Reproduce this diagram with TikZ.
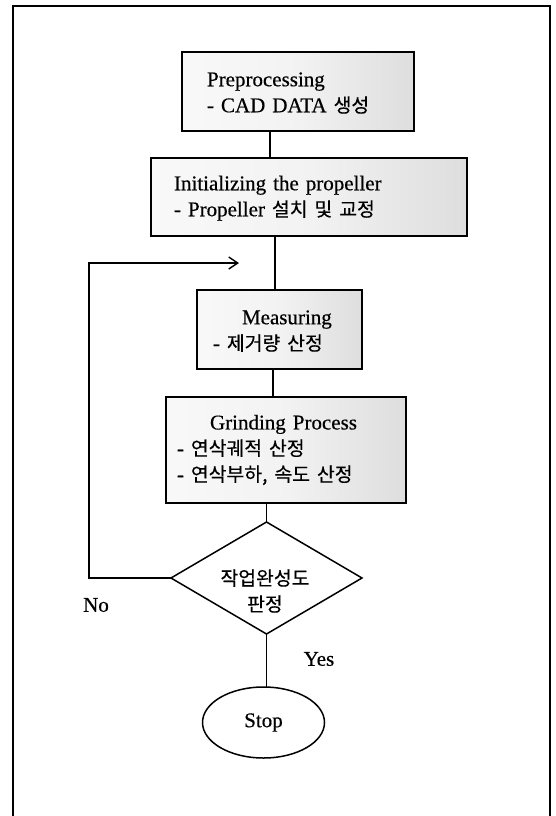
\documentclass[tikz,border=0pt]{standalone}
\usepackage{fontspec}
\setmainfont{Liberation Serif}[FakeBold=0.45]
\newfontfamily\kr{Noto Sans CJK KR}[Scale=0.92, FakeBold=0.3]
\usetikzlibrary{shapes.geometric,arrows.meta}
\pgfdeclarehorizontalshading{scan}{100bp}{color(0bp)=(white); color(50bp)=(white!95!black); color(78bp)=(white!86!black); color(100bp)=(white!70!black)}
\newcommand\myfont{\fontsize{21}{26}\selectfont\spaceskip=12pt\relax}
\begin{document}
\begin{tikzpicture}[x=1pt,y=-1pt,
  procbox/.style={draw, line width=1.5pt, shading=scan, align=left, font=\myfont, inner ysep=0pt, outer sep=0pt},
  decbox/.style={diamond, draw, line width=1.5pt, fill=white, minimum width=191pt, minimum height=112pt, inner sep=0pt, outer sep=0pt},
  endbox/.style={ellipse, draw, line width=1.5pt, fill=white, minimum width=122pt, minimum height=71pt, inner sep=0pt, outer sep=0pt, font=\myfont},
  conn/.style={line width=1.4pt},
  lbl/.style={font=\myfont, inner sep=0pt}]
\useasboundingbox (0,0) rectangle (555,816);
% frame
\draw[line width=2.4pt] (13,816) -- (13,6) -- (550,6) -- (550,816);
% boxes
\node[procbox, text width=182pt, inner xsep=25pt, minimum height=79pt] (pre) at (298,91.5)
  {\rule{0pt}{17pt}Preprocessing\\- CAD DATA {\kr 생성}};
\node[procbox, text width=270pt, inner xsep=23pt, minimum height=78pt] (init) at (309,197)
  {\rule{0pt}{17pt}Initializing the propeller\\- Propeller {\kr 설치 및 교정}};
\node[procbox, text width=133pt, inner xsep=16pt, minimum height=79pt] (meas) at (279.5,329.5)
  {\rule{0pt}{17pt}\hspace*{29pt}Measuring\\- {\kr 제거량 산정}};
\node[procbox, text width=218pt, inner xsep=11pt, minimum height=106pt] (grind) at (286,450)
  {\hspace*{33pt}Grinding Process\\- {\kr 연삭궤적 산정}\\- {\kr 연삭부하, 속도 산정}};
\node[decbox] (dec) at (266.5,578) {};
\node[font=\myfont\kr, align=center, inner sep=0pt] (dectext) at (265,591) {작업완성도\\판정};
\node[endbox] (stop) at (263.5,722.5) {Stop};
% labels
\node[lbl] (no) at (96,605) {No};
\node[lbl] (yes) at (319,659) {Yes};
% connector x positions
\coordinate (c1) at (270,0);
\coordinate (c2) at (275,0);
\coordinate (c3) at (273,0);
\coordinate (fbc) at (89,263);
\coordinate (fbtip) at (239,263);
% connectors
\draw[conn] (pre.south -| c1) -- (init.north -| c1);
\draw[conn] (init.south -| c2) -- (meas.north -| c2);
\draw[conn] (meas.south -| c3) -- (grind.north -| c3);
\draw[conn] (grind.south -| dec.north) -- (dec.north);
\draw[conn] (dec.south) -- (stop.north -| dec.south);
\draw[conn, -{Straight Barb[length=9pt, width=12pt]}] (dec.west) -| (fbc) -- (fbtip);
\end{tikzpicture}
\end{document}
